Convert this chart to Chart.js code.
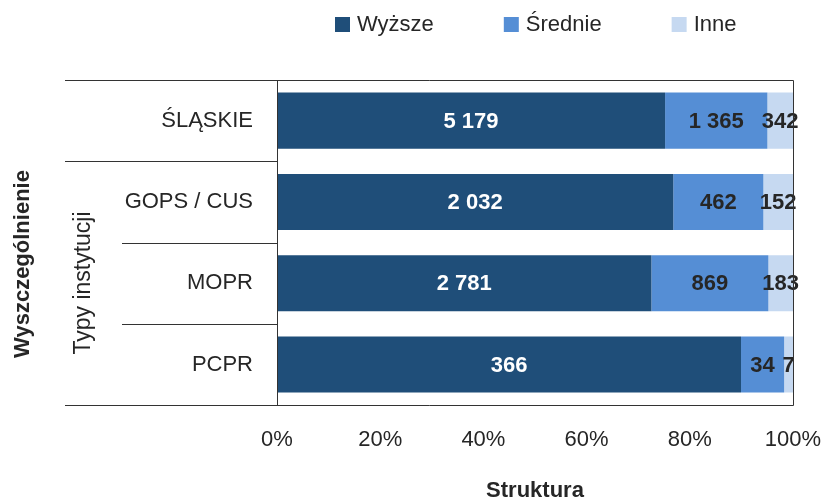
<!DOCTYPE html>
<html>
<head>
<meta charset="utf-8">
<script src="https://cdn.jsdelivr.net/npm/chart.js@4.4.0/dist/chart.umd.min.js"></script>
<style>
    html, body { margin: 0; padding: 0; background: #fff; }
    #wrap { width: 824px; height: 499px; position: relative; }
</style>
</head>
<body>
<div id="wrap"><canvas id="chart"></canvas></div>
<script>
const categories = ['ŚLĄSKIE', 'GOPS / CUS', 'MOPR', 'PCPR'];
const seriesNames = ['Wyższe', 'Średnie', 'Inne'];
const wyzsze = [5179, 2032, 2781, 366];
const srednie = [1365, 462, 869, 34];
const inne = [342, 152, 183, 7];
const xTicks = [0, 20, 40, 60, 80, 100];
const groupLabel = 'Typy instytucji';
const axisLabelY = 'Wyszczególnienie';
const axisLabelX = 'Struktura';

const colors = ['#1F4E79', '#558ED5', '#C6D9F1'];
const labelColors = ['#ffffff', '#262626', '#262626'];
const FONT = "'Liberation Sans', Arial, sans-serif";

const rawSeries = [wyzsze, srednie, inne];
const totals = categories.map((c, i) => wyzsze[i] + srednie[i] + inne[i]);

function formatNum(n) {
    return String(n).replace(/\B(?=(\d{3})+(?!\d))/g, ' ');
}

// lines, side labels, value labels and the legend
const framePlugin = {
    id: 'frame',
    afterDatasetsDraw(chart) {
        const ctx = chart.ctx;
        const area = chart.chartArea;
        const yScale = chart.scales.y;
        ctx.save();

        // value labels
        ctx.font = 'bold 22px ' + FONT;
        ctx.textAlign = 'center';
        ctx.textBaseline = 'middle';
        chart.data.datasets.forEach((ds, di) => {
            const meta = chart.getDatasetMeta(di);
            meta.data.forEach((bar, i) => {
                const p = bar.getProps(['x', 'y', 'base'], true);
                const cx = (p.x + p.base) / 2;
                ctx.fillStyle = labelColors[di];
                ctx.fillText(formatNum(rawSeries[di][i]), cx, p.y + 1);
            });
        });

        // frame lines
        ctx.strokeStyle = '#333333';
        ctx.lineWidth = 1;
        const line = (x1, y1, x2, y2) => {
            ctx.beginPath();
            ctx.moveTo(x1, y1);
            ctx.lineTo(x2, y2);
            ctx.stroke();
        };
        const top = Math.round(area.top) + 0.5;
        const bottom = Math.round(area.bottom) + 0.5;
        const left = Math.round(area.left) + 0.5;
        const right = Math.round(area.right) + 0.5;
        line(65, top, right, top);
        line(65, bottom, right, bottom);
        line(left, top, left, bottom);
        line(right, top, right, bottom);
        for (let i = 1; i < categories.length; i++) {
            const y = Math.round((yScale.getPixelForValue(i - 1) + yScale.getPixelForValue(i)) / 2) + 0.5;
            line(i === 1 ? 65 : 122, y, left, y);
        }

        // rotated labels
        ctx.fillStyle = '#262626';
        ctx.textAlign = 'center';
        ctx.textBaseline = 'middle';
        ctx.save();
        ctx.translate(23, 264);
        ctx.rotate(-Math.PI / 2);
        ctx.font = 'bold 22px ' + FONT;
        ctx.fillText(axisLabelY, 0, 0);
        ctx.restore();
        ctx.save();
        ctx.translate(84, 283);
        ctx.rotate(-Math.PI / 2);
        ctx.font = '23px ' + FONT;
        ctx.fillText(groupLabel, 0, 0);
        ctx.restore();

        // legend
        ctx.font = '22px ' + FONT;
        ctx.textAlign = 'left';
        let x = 335;
        chart.data.datasets.forEach((ds, di) => {
            ctx.fillStyle = ds.backgroundColor;
            ctx.fillRect(x, 17, 15, 15);
            ctx.fillStyle = '#262626';
            ctx.fillText(ds.label, x + 22, 25);
            x += 22 + ctx.measureText(ds.label).width + 70;
        });

        ctx.restore();
    }
};

const datasets = seriesNames.map((name, di) => ({
    label: name,
    data: rawSeries[di].map((v, i) => v / totals[i] * 100),
    backgroundColor: colors[di],
    borderWidth: 0,
    barPercentage: 0.69,
    categoryPercentage: 1
}));

new Chart(document.getElementById('chart'), {
    type: 'bar',
    data: { labels: categories, datasets: datasets },
    options: {
        indexAxis: 'y',
        responsive: true,
        maintainAspectRatio: false,
        animation: false,
        layout: { padding: { top: 80, right: 31, left: 0, bottom: 0 } },
        plugins: {
            legend: { display: false },
            tooltip: { enabled: false }
        },
        scales: {
            x: {
                stacked: true,
                min: 0,
                max: 100,
                afterBuildTicks: scale => { scale.ticks = xTicks.map(v => ({ value: v })); },
                afterFit: scale => { scale.paddingLeft = 0; scale.paddingRight = 0; },
                ticks: {
                    callback: v => v + '%',
                    color: '#262626',
                    font: { family: FONT, size: 22 },
                    padding: 22,
                    maxRotation: 0
                },
                grid: { display: false, drawTicks: false },
                border: { display: false },
                title: {
                    display: true,
                    text: axisLabelX,
                    color: '#262626',
                    font: { family: FONT, size: 22, weight: 'bold' },
                    padding: { top: 2, bottom: -5 }
                }
            },
            y: {
                stacked: true,
                afterFit: scale => { scale.width = 277; },
                ticks: {
                    color: '#262626',
                    font: { family: FONT, size: 22 },
                    padding: 24
                },
                grid: { display: false, drawTicks: false },
                border: { display: false }
            }
        }
    },
    plugins: [framePlugin]
});
</script>
</body>
</html>
